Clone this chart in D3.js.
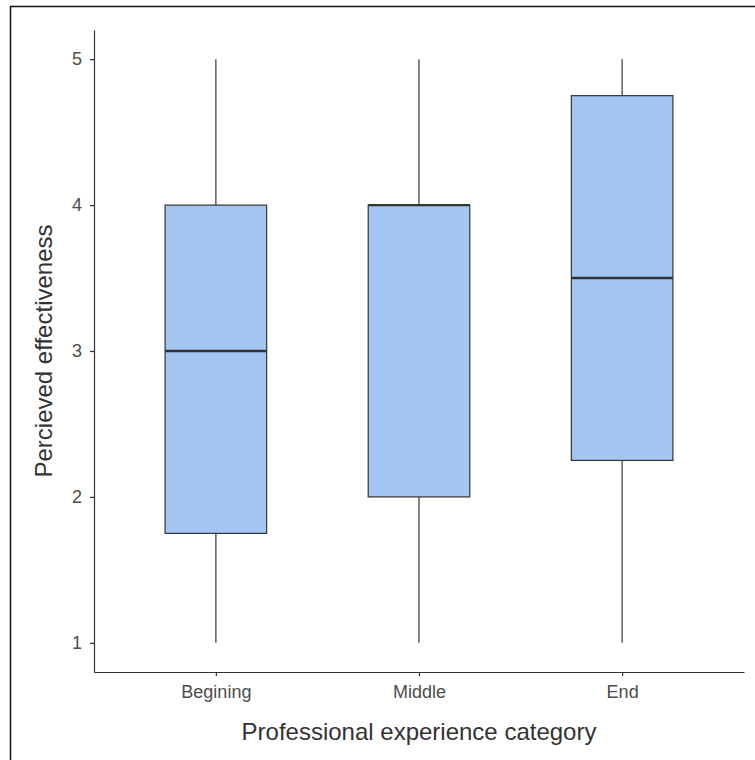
<!DOCTYPE html>
<html>
<head>
<meta charset="utf-8">
<script src="https://cdn.jsdelivr.net/npm/d3@7"></script>
<style>
  body { margin: 0; background: #fff; }
  svg { display: block; }
  svg text { font-family: "Liberation Sans", Arial, sans-serif; }
  .tick text { fill: #4d4d4d; font-size: 18px; }
  .tick line, .domain { stroke: #333; }
</style>
</head>
<body>
<div id="chart"></div>
<script>
// categories and box statistics
const categories = ['Begining', 'Middle', 'End'];
const lowerWhisker = [1, 1, 1];
const q1 = [1.75, 2, 2.25];
const median = [3, 4, 3.5];
const q3 = [4, 4, 4.75];
const upperWhisker = [5, 5, 5];
const yTicks = [1, 2, 3, 4, 5];

const width = 755, height = 760;
const margin = { left: 94, right: 11, top: 30, bottom: 88 };

let svg = d3.select('#chart').append('svg')
    .attr('width', width)
    .attr('height', height);

// frame (left and top edges only)
svg.append('path')
    .attr('d', 'M10.5,' + height + 'V6.5H' + width)
    .attr('fill', 'none')
    .attr('stroke', '#111')
    .attr('stroke-width', 1.5);

// discrete x scale, expanded by 0.6 unit on each side like ggplot
let x = d3.scaleLinear()
    .domain([0.4, categories.length + 0.6])
    .range([margin.left, width - margin.right]);

let y = d3.scaleLinear()
    .domain([0.8, 5.2])
    .range([height - margin.bottom, margin.top]);

let data = categories.map((c, i) => ({
    cat: c, pos: i + 1,
    lo: lowerWhisker[i], q1: q1[i], med: median[i], q3: q3[i], hi: upperWhisker[i]
}));

let boxW = 0.5;
let g = svg.append('g');

let boxes = g.selectAll('g.box')
    .data(data)
    .enter().append('g')
    .attr('class', 'box');

boxes.append('line')
    .attr('x1', d => x(d.pos)).attr('x2', d => x(d.pos))
    .attr('y1', d => y(d.hi)).attr('y2', d => y(d.q3))
    .attr('stroke', '#333').attr('stroke-width', 1.2);

boxes.append('line')
    .attr('x1', d => x(d.pos)).attr('x2', d => x(d.pos))
    .attr('y1', d => y(d.q1)).attr('y2', d => y(d.lo))
    .attr('stroke', '#333').attr('stroke-width', 1.2);

boxes.append('rect')
    .attr('x', d => x(d.pos - boxW / 2))
    .attr('width', d => x(d.pos + boxW / 2) - x(d.pos - boxW / 2))
    .attr('y', d => y(d.q3))
    .attr('height', d => y(d.q1) - y(d.q3))
    .attr('fill', '#a4c4f2')
    .attr('stroke', '#333')
    .attr('stroke-width', 1.2);

boxes.append('line')
    .attr('x1', d => x(d.pos - boxW / 2)).attr('x2', d => x(d.pos + boxW / 2))
    .attr('y1', d => y(d.med)).attr('y2', d => y(d.med))
    .attr('stroke', '#333').attr('stroke-width', 2.4);

// axes
let yAxis = svg.append('g')
    .attr('transform', 'translate(' + margin.left + ',0)')
    .call(d3.axisLeft(y).tickValues(yTicks).tickFormat(d3.format('d'))
        .tickSize(4).tickPadding(8).tickSizeOuter(0));

let xAxis = svg.append('g')
    .attr('transform', 'translate(0,' + (height - margin.bottom) + ')')
    .call(d3.axisBottom(x).tickValues(data.map(d => d.pos))
        .tickFormat((d, i) => categories[i]).tickSize(4).tickPadding(9).tickSizeOuter(0));

svg.selectAll('.domain, .tick line').attr('stroke-width', 1.2);
svg.selectAll('.tick text').attr('font-family', null);

// axis titles
svg.append('text')
    .attr('x', x(2))
    .attr('y', 740)
    .attr('text-anchor', 'middle')
    .attr('fill', '#333')
    .style('font-size', '24px')
    .text('Professional experience category');

svg.append('text')
    .attr('transform', 'translate(52,' + y(3) + ') rotate(-90)')
    .attr('text-anchor', 'middle')
    .attr('fill', '#333')
    .style('font-size', '24px')
    .text('Percieved effectiveness');
</script>
</body>
</html>
